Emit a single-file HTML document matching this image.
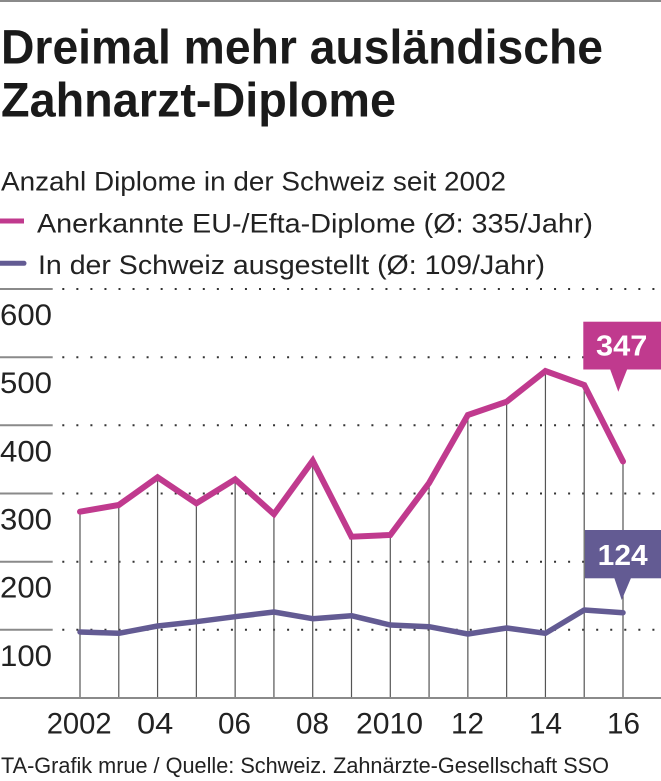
<!DOCTYPE html>
<html>
<head>
<meta charset="utf-8">
<style>
  html,body{margin:0;padding:0;background:#fff;}
  svg{display:block;}
  .t{font-family:"Liberation Sans Narrow","Liberation Sans",sans-serif;}
</style>
</head>
<body>
<svg width="661" height="781" viewBox="0 0 661 781" xmlns="http://www.w3.org/2000/svg">
  <rect x="0" y="0" width="661" height="781" fill="#fff"/>
  <!-- top rule -->
  <line x1="0" y1="1" x2="661" y2="1" stroke="#8a8a8a" stroke-width="2"/>

  <!-- title -->
  <text class="t" x="1" y="63.5" font-size="48" font-weight="bold" fill="#1a1a1a" textLength="602" lengthAdjust="spacingAndGlyphs">Dreimal mehr ausländische</text>
  <text class="t" x="1" y="116.7" font-size="48" font-weight="bold" fill="#1a1a1a" textLength="395" lengthAdjust="spacingAndGlyphs">Zahnarzt-Diplome</text>

  <!-- subtitle & legend -->
  <text class="t" x="1" y="190.5" font-size="26.5" fill="#222" textLength="505" lengthAdjust="spacingAndGlyphs">Anzahl Diplome in der Schweiz seit 2002</text>
  <line x1="0" y1="221" x2="24" y2="221" stroke="#c03a8e" stroke-width="5"/>
  <text class="t" x="37" y="232.7" font-size="26.5" fill="#222" textLength="556" lengthAdjust="spacingAndGlyphs">Anerkannte EU-/Efta-Diplome (Ø: 335/Jahr)</text>
  <line x1="0" y1="263.3" x2="24" y2="263.3" stroke="#635b93" stroke-width="5" stroke-linecap="round"/>
  <text class="t" x="38" y="274" font-size="26.5" fill="#222" textLength="507" lengthAdjust="spacingAndGlyphs">In der Schweiz ausgestellt (Ø: 109/Jahr)</text>

  <!-- gridlines -->
  <g stroke="#8a8a8a" stroke-width="2">
    <line x1="0" y1="289" x2="52.7" y2="289"/>
    <line x1="0" y1="357.2" x2="52.7" y2="357.2"/>
    <line x1="0" y1="425.3" x2="52.7" y2="425.3"/>
    <line x1="0" y1="493.5" x2="52.7" y2="493.5"/>
    <line x1="0" y1="561.7" x2="52.7" y2="561.7"/>
    <line x1="0" y1="629.8" x2="52.7" y2="629.8"/>
  </g>
  <g stroke="#333" stroke-width="2" stroke-dasharray="2 12.05">
    <line x1="62.3" y1="289" x2="661" y2="289"/>
    <line x1="62.3" y1="357.2" x2="661" y2="357.2"/>
    <line x1="62.3" y1="425.3" x2="661" y2="425.3"/>
    <line x1="62.3" y1="493.5" x2="661" y2="493.5"/>
    <line x1="62.3" y1="561.7" x2="661" y2="561.7"/>
    <line x1="62.3" y1="629.8" x2="661" y2="629.8"/>
  </g>

  <!-- y labels -->
  <g class="t" font-size="30" fill="#222">
    <text x="0" y="325" textLength="52" lengthAdjust="spacingAndGlyphs">600</text>
    <text x="0" y="393.2" textLength="52" lengthAdjust="spacingAndGlyphs">500</text>
    <text x="0" y="461.3" textLength="52" lengthAdjust="spacingAndGlyphs">400</text>
    <text x="0" y="529.5" textLength="52" lengthAdjust="spacingAndGlyphs">300</text>
    <text x="0" y="597.7" textLength="52" lengthAdjust="spacingAndGlyphs">200</text>
    <text x="0" y="665.8" textLength="52" lengthAdjust="spacingAndGlyphs">100</text>
  </g>

  <!-- vertical drop lines -->
  <g stroke="#555" stroke-width="1.2">
    <line x1="80" y1="511.7" x2="80" y2="698"/>
    <line x1="118.79" y1="505" x2="118.79" y2="698"/>
    <line x1="157.57" y1="477.3" x2="157.57" y2="698"/>
    <line x1="196.36" y1="503.3" x2="196.36" y2="698"/>
    <line x1="235.14" y1="479.3" x2="235.14" y2="698"/>
    <line x1="273.93" y1="514.2" x2="273.93" y2="698"/>
    <line x1="312.71" y1="460.7" x2="312.71" y2="698"/>
    <line x1="351.5" y1="536.7" x2="351.5" y2="698"/>
    <line x1="390.29" y1="535" x2="390.29" y2="698"/>
    <line x1="429.07" y1="483" x2="429.07" y2="698"/>
    <line x1="467.86" y1="415" x2="467.86" y2="698"/>
    <line x1="506.64" y1="401.7" x2="506.64" y2="698"/>
    <line x1="545.43" y1="371" x2="545.43" y2="698"/>
    <line x1="584.21" y1="385" x2="584.21" y2="698"/>
    <line x1="623" y1="461.5" x2="623" y2="698"/>
  </g>

  <!-- baseline -->
  <line x1="0" y1="698" x2="661" y2="698" stroke="#8a8a8a" stroke-width="2"/>

  <!-- series -->
  <polyline fill="none" stroke="#635b93" stroke-width="5.5" stroke-linejoin="round" stroke-linecap="round"
    points="80,632 118.79,633.3 157.57,626 196.36,621.7 235.14,616.7 273.93,612 312.71,618.7 351.5,615.7 390.29,625 429.07,626.7 467.86,634 506.64,628 545.43,633.3 584.21,610 623,612.7"/>
  <polyline fill="none" stroke="#c03a8e" stroke-width="6" stroke-linejoin="miter" stroke-linecap="round"
    points="80,511.7 118.79,505 157.57,477.3 196.36,503.3 235.14,479.3 273.93,514.2 312.71,460.7 351.5,536.7 390.29,535 429.07,483 467.86,415 506.64,401.7 545.43,371 584.21,385 623,461.5"/>

  <!-- callouts -->
  <rect x="583.3" y="321.7" width="77.7" height="47.8" fill="#c03a8e"/>
  <polygon points="610,369 627.3,369 618.3,391.7" fill="#c03a8e"/>
  <text class="t" x="596" y="355.7" font-size="29" font-weight="bold" fill="#fff" textLength="51.3" lengthAdjust="spacingAndGlyphs">347</text>

  <rect x="585" y="530" width="76" height="48.3" fill="#635b93"/>
  <polygon points="614.3,578 631,578 621.7,600" fill="#635b93"/>
  <text class="t" x="597.7" y="565" font-size="29" font-weight="bold" fill="#fff" textLength="50" lengthAdjust="spacingAndGlyphs">124</text>

  <!-- x labels -->
  <g class="t" font-size="30" fill="#222">
    <text x="46.7" y="733.3" textLength="65" lengthAdjust="spacingAndGlyphs">2002</text>
    <text x="137" y="733.3" textLength="36.3" lengthAdjust="spacingAndGlyphs">04</text>
    <text x="218" y="733.3" textLength="33" lengthAdjust="spacingAndGlyphs">06</text>
    <text x="296" y="733.3" textLength="33" lengthAdjust="spacingAndGlyphs">08</text>
    <text x="356" y="733.3" textLength="67" lengthAdjust="spacingAndGlyphs">2010</text>
    <text x="451" y="733.3" textLength="33" lengthAdjust="spacingAndGlyphs">12</text>
    <text x="529" y="733.3" textLength="33" lengthAdjust="spacingAndGlyphs">14</text>
    <text x="607" y="733.3" textLength="33" lengthAdjust="spacingAndGlyphs">16</text>
  </g>

  <!-- footer -->
  <text class="t" x="1" y="773" font-size="22" fill="#222" textLength="608" lengthAdjust="spacingAndGlyphs">TA-Grafik mrue / Quelle: Schweiz. Zahnärzte-Gesellschaft SSO</text>
</svg>
</body>
</html>
